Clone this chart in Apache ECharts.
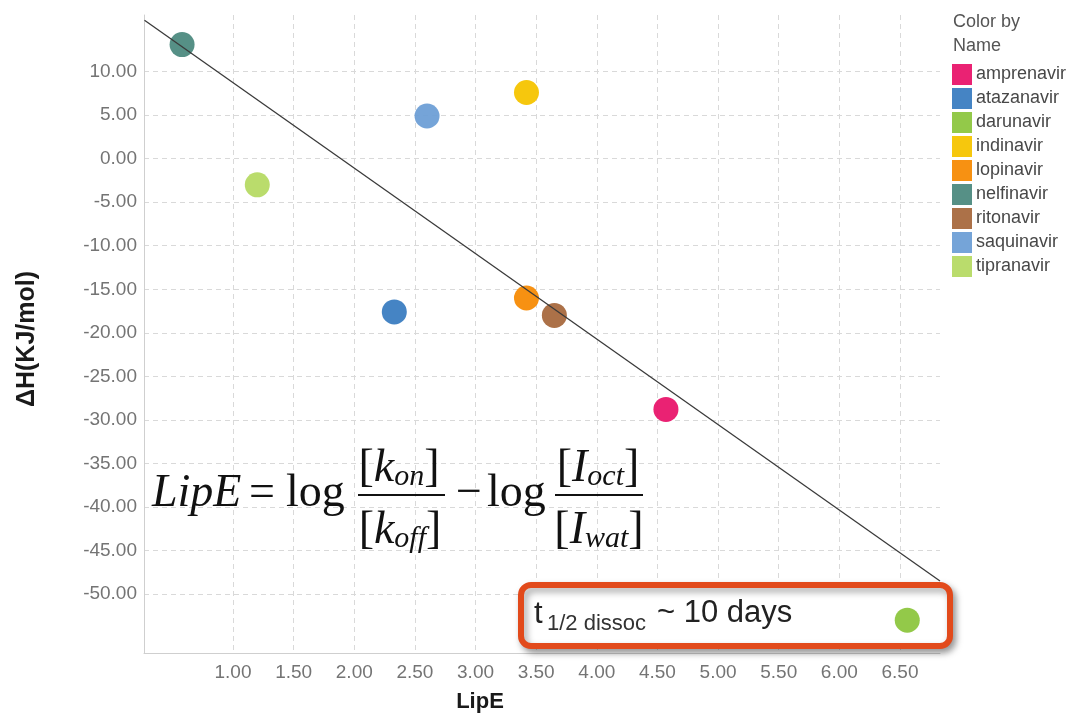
<!DOCTYPE html>
<html>
<head>
<meta charset="utf-8">
<title>LipE vs ΔH</title>
<script src="https://cdn.jsdelivr.net/npm/echarts@6/dist/echarts.min.js"></script>
<style>
  html, body { margin: 0; padding: 0; background: #ffffff; }
  #chart { width: 1071px; height: 721px; }
</style>
</head>
<body>
<div id="chart"></div>
<script>
// HIV protease inhibitors: lipophilic efficiency vs binding enthalpy
const drugNames = ['amprenavir', 'atazanavir', 'darunavir', 'indinavir', 'lopinavir',
                   'nelfinavir', 'ritonavir', 'saquinavir', 'tipranavir'];
const lipE   = [4.57, 2.33, 6.56, 3.42, 3.42, 0.58, 3.65, 2.60, 1.20];
const deltaH = [-28.8, -17.6, -53.0, 7.6, -16.0, 13.1, -18.0, 4.9, -3.0];

// trend line end points
const fitLipE   = [0.27, 6.83];
const fitDeltaH = [15.9, -48.5];

// tick labels
const xTicks = [1.0, 1.5, 2.0, 2.5, 3.0, 3.5, 4.0, 4.5, 5.0, 5.5, 6.0, 6.5];
const yTicks = [-50, -45, -40, -35, -30, -25, -20, -15, -10, -5, 0, 5, 10];

const palette = ['#E9166B', '#3B7DC1', '#8DC63F', '#F5C400', '#F78B05',
                 '#4D8A80', '#A8693E', '#6E9FD6', '#B6DA64'];

const sans = '"Liberation Sans", Arial, Helvetica, sans-serif';
const serif = '"Liberation Serif", "Times New Roman", serif';

const pointSeries = drugNames.map((name, i) => ({
  name: name,
  type: 'scatter',
  z: 2,
  symbol: 'circle',
  symbolSize: 25,
  itemStyle: { color: palette[i], opacity: 0.95 },
  data: [[lipE[i], deltaH[i]]]
}));

const fitSeries = {
  name: 'fit',
  type: 'line',
  z: 4,
  silent: true,
  symbol: 'none',
  lineStyle: { color: '#3a3a3a', width: 1.3 },
  data: fitLipE.map((x, i) => [x, fitDeltaH[i]])
};

const gridLine = { show: true, lineStyle: { color: '#d9d9d9', type: [5, 4], width: 1 } };

function serifText(x, y, text, size, italic, align) {
  return {
    type: 'text', x: x, y: y, z: 10, silent: true,
    style: {
      text: text, fontFamily: serif, fontSize: size,
      fontStyle: italic ? 'italic' : 'normal',
      fill: '#111', align: align || 'left', verticalAlign: 'middle'
    }
  };
}

function bracketed(x, y, letter, sub) {
  return {
    type: 'text', x: x, y: y, z: 10, silent: true,
    style: {
      text: '{b|[}{v|' + letter + '}{s|' + sub + '}{b|]}',
      align: 'center', verticalAlign: 'middle', fill: '#111',
      rich: {
        b: { fontFamily: serif, fontSize: 46, fill: '#111' },
        v: { fontFamily: serif, fontSize: 46, fontStyle: 'italic', fill: '#111' },
        s: { fontFamily: serif, fontSize: 30, fontStyle: 'italic', fill: '#111', verticalAlign: 'bottom' }
      }
    }
  };
}

function sansText(x, y, text, size, color) {
  return {
    type: 'text', x: x, y: y, z: 10, silent: true,
    style: {
      text: text, fontFamily: sans, fontSize: size, fill: color,
      align: 'left', verticalAlign: 'middle'
    }
  };
}

const graphics = [
  // legend heading
  sansText(953, 22, 'Color by', 18, '#555'),
  sansText(953, 46, 'Name', 18, '#555'),

  // LipE definition
  serifText(152, 494, 'LipE', 46, true),
  serifText(249, 494, '=', 46, false),
  serifText(286, 494, 'log', 46, false),
  { type: 'line', z: 10, silent: true, shape: { x1: 358, y1: 495, x2: 445, y2: 495 },
    style: { stroke: '#111', lineWidth: 2 } },
  bracketed(399, 469, 'k', 'on'),
  bracketed(400, 531, 'k', 'off'),
  serifText(456, 494, '\u2212', 46, false),
  serifText(487, 494, 'log', 46, false),
  { type: 'line', z: 10, silent: true, shape: { x1: 555, y1: 495, x2: 643, y2: 495 },
    style: { stroke: '#111', lineWidth: 2 } },
  bracketed(598, 469, 'I', 'oct'),
  bracketed(599, 531, 'I', 'wat'),

  // dissociation half-life callout
  { type: 'rect', z: 1, silent: true,
    shape: { x: 521, y: 585, width: 429, height: 61, r: 10 },
    style: { fill: '#ffffff', stroke: '#E24A1B', lineWidth: 6,
             shadowBlur: 7, shadowColor: 'rgba(0,0,0,0.35)', shadowOffsetX: 3, shadowOffsetY: 4 } },
  sansText(534, 614, 't', 31, '#222'),
  sansText(547, 624, '1/2 dissoc', 22, '#333'),
  sansText(657, 613, '~ 10 days', 31, '#222')
];

const chart = echarts.init(document.getElementById('chart'), null, { renderer: 'canvas' });
chart.setOption({
  animation: false,
  backgroundColor: '#ffffff',
  grid: { left: 144, right: 131, top: 15, bottom: 68, containLabel: false },
  legend: {
    data: drugNames,
    orient: 'vertical',
    left: 952, top: 64,
    padding: 0,
    icon: 'rect',
    itemWidth: 20, itemHeight: 21, itemGap: 3,
    textStyle: { fontFamily: sans, fontSize: 18, color: '#484848', padding: [0, 0, 0, -1] },
    selectedMode: false
  },
  xAxis: {
    type: 'value',
    min: 0.266, max: 6.83,
    name: 'LipE',
    nameLocation: 'middle',
    nameGap: 38,
    nameTextStyle: { fontFamily: sans, fontSize: 22, fontWeight: 'bold', color: '#1a1a1a',
                     padding: [0, 124, 0, 0] },
    axisLine: { show: true, onZero: false, lineStyle: { color: '#cfcfcf', width: 1 } },
    axisTick: { show: false, customValues: xTicks },
    axisLabel: { customValues: xTicks, margin: 10, fontFamily: sans, fontSize: 19, color: '#747474',
                 formatter: v => v.toFixed(2) },
    splitLine: gridLine
  },
  yAxis: {
    type: 'value',
    min: -56.77, max: 16.5,
    name: '\u0394H(KJ/mol)',
    nameLocation: 'middle',
    nameGap: 104,
    nameRotate: 90,
    nameTextStyle: { fontFamily: sans, fontSize: 25, fontWeight: 'bold', color: '#1a1a1a',
                     padding: [0, 10, 0, 0] },
    axisLine: { show: true, onZero: false, lineStyle: { color: '#cfcfcf', width: 1 } },
    axisTick: { show: false, customValues: yTicks },
    axisLabel: { customValues: yTicks, margin: 7, fontFamily: sans, fontSize: 19, color: '#747474',
                 formatter: v => v.toFixed(2) },
    splitLine: gridLine
  },
  graphic: graphics,
  series: pointSeries.concat([fitSeries])
});
</script>
</body>
</html>
